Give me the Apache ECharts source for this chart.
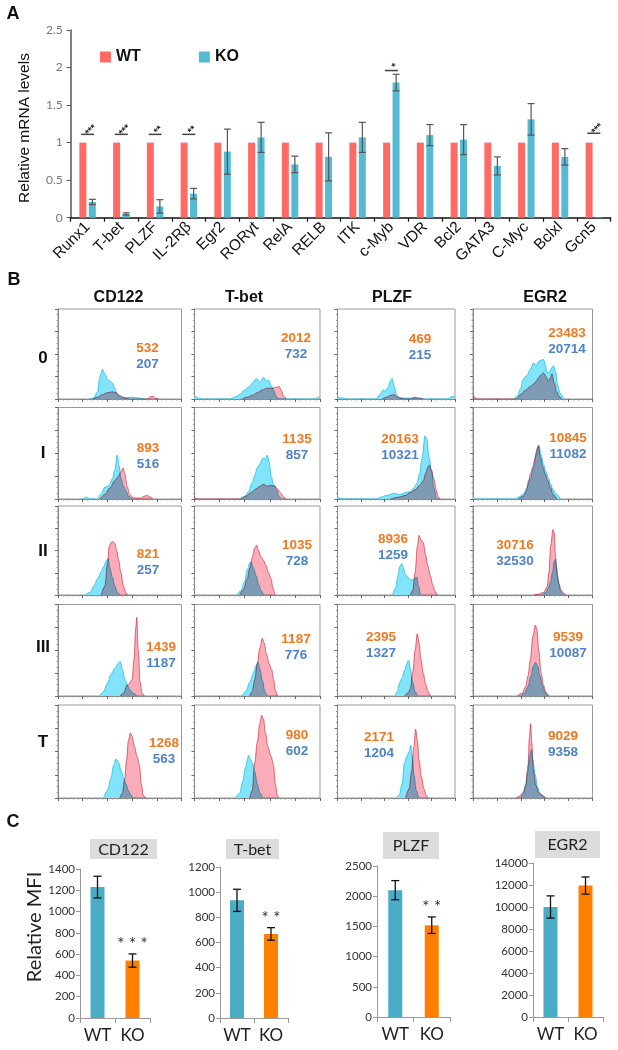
<!DOCTYPE html>
<html><head><meta charset="utf-8">
<script src="https://cdn.jsdelivr.net/npm/echarts@6/dist/echarts.min.js"></script>
<style>html,body{margin:0;padding:0;background:#fff}#c{width:618px;height:1050px}</style>
</head><body><div id="c"></div>
<script>
// ---------- Panel A data ----------
const genes = ['Runx1','T-bet','PLZF','IL-2R\u03b2','Egr2','ROR\u03b3t','RelA','RELB','ITK','c-Myb','VDR','Bcl2','GATA3','C-Myc','Bclxl','Gcn5'];
const wtLevels = [1,1,1,1,1,1,1,1,1,1,1,1,1,1,1,1];
const koLevels = [0.21,0.05,0.15,0.32,0.88,1.07,0.71,0.81,1.07,1.80,1.10,1.04,0.69,1.31,0.81,0.01];
const koErrors = [0.035,0.015,0.09,0.07,0.30,0.20,0.11,0.32,0.20,0.11,0.14,0.20,0.12,0.21,0.11,0];
const sigMarks = [[0,1.11,'***'],[1,1.11,'***'],[2,1.11,'**'],[3,1.11,'**'],[9,1.96,'*'],[15,1.125,'***']];

// ---------- Panel B data ----------
const markers = ['CD122','T-bet','PLZF','EGR2'];
const stages = ['0','I','II','III','T'];
const mfiWT = [[532,893,821,1439,1268],[2012,1135,1035,1187,980],[469,20163,8936,2395,2171],[23483,10845,30716,9539,9029]];
const mfiKO = [[207,516,257,1187,563],[732,857,728,776,602],[215,10321,1259,1327,1204],[20714,11082,32530,10087,9358]];

const cd122KO = [
 [[25,0],[29,1],[32,8],[34,25],[36,33],[38,28],[40,22],[42,20],[44,18],[46,12],[48,5],[51,2],[55,1.5],[60,2],[65,1],[70,0]],
 [[20,0],[23,2],[26,0],[32,0],[35,6],[38,13],[41,14],[44,22],[46,32],[48,48],[49.5,36],[51,22],[53,14],[55,9],[57,3],[60,0]],
 [[22,0],[26,3],[29,10],[32,18],[35,26],[37,32],[39,38],[40.5,41],[42,30],[44,20],[46,10],[48,3],[50,0]],
 [[34,0],[37,5],[40,14],[43,24],[46,30],[49,36],[50.5,38],[52,30],[54,19],[56,12],[58,7],[61,3],[64,0]],
 [[37,0],[40,8],[43,22],[45,35],[47,42],[49,38],[51,30],[53,22],[55,15],[57,8],[59,3],[61,0]]
];
const cd122WT = [
 [[28,0],[32,2],[36,5],[40,7],[44,8],[47,7],[50,4],[54,1],[58,0],[72,0],[75,2.5],[77,3],[79,1],[81,0]],
 [[34,0],[38,5],[42,12],[46,20],[49,25],[51,30],[52.7,34],[54,28],[56,14],[58,5],[61,1.5],[64,1],[67,1],[70,3],[72,4],[74,2.5],[77,0]],
 [[35,0],[38,10],[40,35],[41.5,55],[43,59],[44.5,60],[46,58],[47.5,50],[49,40],[51,25],[53,10],[55,2],[57,0]],
 [[50,0],[53,3],[56,12],[58,14],[60,18],[61.5,40],[63,75],[63.8,86],[65,50],[66.5,15],[68,3],[70,0]],
 [[50,0],[52,5],[54,20],[55.5,41],[57,62],[58.6,70],[60,66],[62,55],[64,45],[66,35],[67.5,15],[69,3],[71,0]]
];
const tbetKO = [
 [[0,4],[3,1],[6,0],[28,0],[32,2],[36,5],[40,10],[44,14],[47,19],[49.5,23],[52,18],[55,24],[57,20],[59,21],[61,15],[63,10],[65,3],[67,0],[96,0],[99,2],[100,2]],
 [[36,0],[40,3],[43,8],[46,18],[48,26],[50,34],[52,38],[54,44],[55.5,45],[57,43],[58,48],[59.5,40],[61,25],[63,16],[65.5,10],[67,3],[69,0]],
 [[34,0],[37,5],[40,15],[42,28],[44,36],[45,37],[47,30],[49,22],[51,12],[53,5],[55,0]],
 [[38,0],[41,5],[44,15],[47,25],[49,33],[50.5,37],[52,30],[54,17],[56,5],[57.5,0]],
 [[33,0],[36,5],[38.5,18],[40.5,32],[42,40],[43,46],[44.5,42],[46,38],[48,28],[50,15],[52,6],[54,0]]
];
const tbetWT = [
 [[38,0],[42,2],[46,4],[50,7],[54,10],[58,12],[62,12],[65,13],[67.5,14],[69,10],[71,3],[73,0]],
 [[0,2],[2,0],[37,0],[41,3],[45,7],[49,11],[52,14],[55,16],[58,14],[61,15],[64,14],[66,11],[69,6],[71,2],[73,0]],
 [[36,0],[39,6],[42,18],[44,30],[46,42],[48,53],[49.5,56],[51,50],[53,43],[55,39],[57,33],[59,25],[61,18],[62.5,8],[64,0]],
 [[44,0],[46,5],[48,18],[50,35],[52,52],[54,63],[55.5,58],[57.5,45],[59.5,35],[61.5,29],[63,18],[64.5,6],[66,0]],
 [[44,0],[46,8],[48,38],[50,60],[52,80],[53.5,89],[55,85],[56.5,70],[58.5,55],[61,45],[63,35],[64.5,15],[66,3],[67,0]]
];
const plzfKO = [
 [[0,2],[4,1],[8,0],[33,0],[36,5],[39,10],[41,9],[43,13],[45,20],[46.5,23],[48,15],[50,5],[52,2],[55,1],[60,1],[66,1],[70,0],[94,0],[97,3],[100,2]],
 [[0,3],[2,1],[5,0],[33,0],[37,2],[42,4],[48,6],[53,5],[58,7],[62,8],[65,12],[67.5,17],[70,28],[72,45],[74.5,69],[76,65],[78,45],[80,30],[82,12],[84,0]],
 [[47,0],[49.5,8],[51.5,22],[53,32],[54.7,35],[56.5,28],[58,23],[60,20],[62,17],[64,17],[66,19],[67.5,20],[69,10],[70.5,0]],
 [[49,0],[51,5],[53,15],[55,20],[57,28],[59,35],[60.4,39],[62,30],[64,15],[66,5],[68,0]],
 [[50,0],[52.5,3],[55,15],[57,38],[59,45],[61,50],[62.4,57],[63.5,45],[65,25],[67,8],[69,0]]
];
const plzfWT = [
 [[38,0],[42,2],[45,4],[48,5],[50,3],[53,1],[57,0],[62,0],[66,2],[70,1],[73,0]],
 [[45,0],[52,2],[58,4],[62,7],[66,10],[70,15],[73,20],[75,28],[77,35],[78,37],[80,32],[82,22],[84,10],[85.5,3],[87,0]],
 [[62,0],[64,5],[66,25],[68,55],[69.4,67],[71,62],[73,59],[75,45],[77,32],[79,22],[81,12],[83,4],[85,0]],
 [[57,0],[60,3],[62,8],[64,25],[66,50],[67.9,68],[69.5,58],[71,40],[73,25],[75,13],[77,5],[79,0]],
 [[58,0],[61,10],[63,28],[65,55],[66.5,74],[68,62],[69.5,40],[71.5,22],[73.5,10],[75.5,3],[77,0]]
];
const egr2KO = [
 [[34,0],[37,3],[40,12],[42,22],[45,26],[48,33],[50.7,40],[53,37],[55,42],[57,43],[59,44],[60.5,38],[62,29],[64,30],[66,35],[67.4,37],[69,30],[71,15],[73,6],[75.8,0]],
 [[0,3],[3,0],[35,0],[38,2],[42,5],[45,12],[48,22],[51,35],[53,50],[55,59],[57,48],[59,38],[61,30],[63,23],[65,16],[67,10],[70,5],[73,0]],
 [[58,0],[61,3],[63,8],[65,15],[66.5,25],[68,38],[68.8,40],[70,30],[71.5,15],[73,5],[75,0]],
 [[40,0],[43,3],[46,10],[48.5,22],[50.5,33],[52.3,36.6],[54,33],[56,22],[58,12],[60,5],[62,1],[64,0]],
 [[40,0],[42,4],[44,12],[46,28],[47.5,45],[48.8,52],[50,42],[52,25],[54,12],[56,5],[58,2],[60,0]]
];
const egr2WT = [
 [[0,3],[1.5,2],[3,0],[36,0],[40,5],[44,10],[48,14],[51,17],[53,20],[55,24],[57,27],[59,29],[61,25],[63,20],[65,24],[66,28],[68,18],[70,8],[72,3],[74,0]],
 [[38,0],[42,3],[44.5,8],[46.5,20],[48,27.5],[50,35],[52,45],[53.5,55],[54.7,58],[56.5,45],[58.5,35],[60.5,27],[62.5,20],[65,12],[67,5],[70,0]],
 [[51,0],[55,1],[59,3],[62,9],[63.5,25],[65,55],[66.9,73.5],[68,70],[69,45],[70.5,22],[72,12],[74,5],[76,2],[78,0]],
 [[37,0],[41,3],[44,10],[46,22],[48,40],[50,65],[52.3,77.6],[53.5,72],[55,50],[57,25],[59,12],[61,4],[63,0]],
 [[36,0],[39,2],[42,6],[44,14],[46,35],[47.2,65],[48.2,80],[49.2,60],[50.5,30],[52.5,14],[55,6],[58,3],[61,0]]
];

// ---------- Panel C data ----------
const groups = ['WT','KO'];
const relMFI = [[1230,540],[935,668],[2100,1520],[10000,11950]];
const relMFIErr = [[102,62],[88,50],[158,137],[1010,780]];
const relMFISig = [['','***'],['','**'],['','**'],['','']];
const relMFIMax = [1400,1200,2500,14000];
const relMFIStep = [200,200,500,2000];

// ---------- layout / styles ----------
const FONT = '"Liberation Sans", Arial, sans-serif';
const CAL = 'Lato, "Liberation Sans", sans-serif';
const RED_A = '#FF6B64', BLUE_A = '#57BAD3';
const ORANGE_T = '#F07820', BLUE_T = '#4F83C8';

const colLeft = [58,194.5,337.5,473], colW = [123.5,125.5,117.5,119.5];
const rowTop = [309,407.5,506,604.5,705], rowH = [90,91.5,89,91.5,93];
const numPos = [
 [[147.5,348],[148,448],[148,554],[161,647],[164,743]],
 [[296,338],[297,439],[297,545],[296,639],[297,735]],
 [[420,339],[400,439],[393,539],[381,637],[379,737]],
 [[567,333],[568,438],[515,545],[568,637],[563,736]]
];
const headerX = [118.5,244,392,545];
const rowLabelY = [358,453,551,647,742];

const cLeft = [80,220,377,533], cW = [70,68,73,70], cTop = [869,867,866,863], cBot = [1018,1018,1017,1017];
const cTitleBox = [[90,839,67,20],[226,839,53,20],[383,832,56,27],[535,831,65,27]];

const grids = [], xAxes = [], yAxes = [], series = [], graphics = [];

function txt(t, x, y, font, fill, align, extra) {
  return Object.assign({type:'text', x:x, y:y, silent:true, style:{text:t, font:font, fill:fill,
    align:align||'center', verticalAlign:'middle', textAlign:align||'center', textVerticalAlign:'middle'}}, extra||{});
}

// ---------- Panel A ----------
grids.push({left:70.7, top:30, width:540, height:187.7});
xAxes.push({gridIndex:0, type:'category', data:genes,
  axisLine:{lineStyle:{color:'#111', width:1.5}},
  axisTick:{show:true, length:4, lineStyle:{color:'#111', width:1.2}},
  axisLabel:{rotate:45, interval:0, fontSize:15.5, color:'#111', fontFamily:FONT, margin:7}});
yAxes.push({gridIndex:0, type:'value', min:0, max:2.5, interval:0.5,
  axisLine:{show:true, lineStyle:{color:'#555', width:1.5}},
  axisTick:{show:true, length:4, lineStyle:{color:'#555'}},
  axisLabel:{fontSize:12, color:'#777', fontFamily:CAL, margin:8, formatter:v=>String(v)},
  splitLine:{show:false}});
series.push({name:'WT', type:'bar', xAxisIndex:0, yAxisIndex:0, data:wtLevels, barWidth:7, barGap:'35%', itemStyle:{color:RED_A}});
series.push({name:'KO', type:'bar', xAxisIndex:0, yAxisIndex:0, data:koLevels, barWidth:7, barGap:'35%', itemStyle:{color:BLUE_A}});
series.push({type:'custom', xAxisIndex:0, yAxisIndex:0, z:5, silent:true,
  data: koLevels.map((v,i)=>[i, v, koErrors[i]]),
  renderItem:(p, api)=>{
    const i = api.value(0), v = api.value(1), e = api.value(2);
    if (!e) return null;
    const hi = api.coord([i, v+e]), lo = api.coord([i, v-e]);
    const x = hi[0] + 4.8;
    const st = {stroke:'#555', lineWidth:1.2};
    return {type:'group', children:[
      {type:'line', shape:{x1:x, y1:hi[1], x2:x, y2:lo[1]}, style:st},
      {type:'line', shape:{x1:x-3.5, y1:hi[1], x2:x+3.5, y2:hi[1]}, style:st},
      {type:'line', shape:{x1:x-3.5, y1:lo[1], x2:x+3.5, y2:lo[1]}, style:st}
    ]};
  }});
series.push({type:'custom', xAxisIndex:0, yAxisIndex:0, z:6, silent:true,
  data: sigMarks,
  renderItem:(p, api)=>{
    const c = api.coord([api.value(0), api.value(1)]);
    const s = sigMarks[p.dataIndex][2];
    return {type:'group', children:[
      {type:'line', shape:{x1:c[0]-6.5, y1:c[1], x2:c[0]+6.5, y2:c[1]}, style:{stroke:'#444', lineWidth:1.5}},
      {type:'text', x:c[0]+3.5, y:c[1]-4, rotation:Math.PI/4,
        style:{text:s, font:'bold 10px '+FONT, fill:'#222', align:'center', verticalAlign:'middle'}}
    ]};
  }});
graphics.push(txt('A', 13, 14, 'bold 18px '+FONT, '#111'));
graphics.push(txt('Relative mRNA levels', 25, 128, '15.5px '+FONT, '#111', 'center', {rotation:Math.PI/2}));

// ---------- Panel B ----------
const histKO = [cd122KO, tbetKO, plzfKO, egr2KO];
const histWT = [cd122WT, tbetWT, plzfWT, egr2WT];
graphics.push(txt('B', 14, 280, 'bold 18px '+FONT, '#111'));
markers.forEach((m, c) => {
  graphics.push(txt(m, headerX[c], 298, 'bold 16px '+FONT, '#111'));
  stages.forEach((s, r) => {
    const gi = grids.length;
    grids.push({left:colLeft[c], top:rowTop[r], width:colW[c], height:rowH[r], show:true,
      borderColor:'#9a9a9a', borderWidth:1, backgroundColor:'rgba(0,0,0,0)'});
    xAxes.push({gridIndex:gi, type:'value', min:0, max:100, interval:20,
      axisLine:{show:true, onZero:false, lineStyle:{color:'#888'}},
      axisTick:{show:true, length:3, lineStyle:{color:'#666'}},
      minorTick:{show:true, splitNumber:5, length:1.5, lineStyle:{color:'#999'}},
      axisLabel:{show:false}, splitLine:{show:false}});
    yAxes.push({gridIndex:gi, type:'value', min:0, max:100, interval:25,
      axisLine:{show:true, onZero:false, lineStyle:{color:'#888'}},
      axisTick:{show:true, length:3, lineStyle:{color:'#666'}},
      minorTick:{show:true, splitNumber:4, length:1.5, lineStyle:{color:'#999'}},
      axisLabel:{show:false}, splitLine:{show:false}});
    series.push({type:'line', xAxisIndex:gi, yAxisIndex:gi, data:histKO[c][r], smooth:0.35, smoothMonotone:'x',
      symbol:'none', silent:true, z:2, lineStyle:{color:'#3CC8E8', width:1},
      areaStyle:{color:'#82E4FA', opacity:1}});
    series.push({type:'line', xAxisIndex:gi, yAxisIndex:gi, data:histWT[c][r], smooth:0.35, smoothMonotone:'x',
      symbol:'none', silent:true, z:3, blendMode:'multiply', lineStyle:{color:'#E57783', width:1},
      areaStyle:{color:'#FAACB8', opacity:1}});
    const p = numPos[c][r];
    graphics.push(txt(String(mfiWT[c][r]), p[0], p[1], 'bold 13.5px '+FONT, ORANGE_T));
    graphics.push(txt(String(mfiKO[c][r]), p[0], p[1]+16, 'bold 13.5px '+FONT, BLUE_T));
  });
});
stages.forEach((s, r) => graphics.push(txt(s, 43, rowLabelY[r], 'bold 17px '+FONT, '#111')));

// ---------- Panel C ----------
graphics.push(txt('C', 13, 822, 'bold 18px '+FONT, '#111'));
graphics.push(txt('Relative MFI', 35, 927, '20px '+CAL, '#222', 'center', {rotation:Math.PI/2}));
markers.forEach((m, k) => {
  const gi = grids.length;
  grids.push({left:cLeft[k], top:cTop[k], width:cW[k], height:cBot[k]-cTop[k]});
  xAxes.push({gridIndex:gi, type:'category', data:groups,
    axisLine:{lineStyle:{color:'#999'}},
    axisTick:{show:true, length:5, lineStyle:{color:'#999'}},
    axisLabel:{interval:0, hideOverlap:false, fontSize:17, color:'#222', fontFamily:CAL, margin:9}});
  yAxes.push({gridIndex:gi, type:'value', min:0, max:relMFIMax[k], interval:relMFIStep[k],
    axisLine:{show:true, lineStyle:{color:'#999'}},
    axisTick:{show:true, length:4, lineStyle:{color:'#999'}},
    axisLabel:{fontSize:11.5, color:'#333', fontFamily:CAL, margin:5, formatter:v=>String(v)},
    splitLine:{show:false}});
  series.push({type:'bar', xAxisIndex:gi, yAxisIndex:gi, barWidth:14, silent:true,
    data: relMFI[k].map((v,i)=>({value:v, itemStyle:{color: i ? '#FF8000' : '#4BACC6'}}))});
  series.push({type:'custom', xAxisIndex:gi, yAxisIndex:gi, z:5, silent:true,
    data: relMFI[k].map((v,i)=>[i, v, relMFIErr[k][i]]),
    renderItem:(p, api)=>{
      const i = api.value(0), v = api.value(1), e = api.value(2);
      const hi = api.coord([i, v+e]), lo = api.coord([i, v-e]);
      const x = hi[0];
      const st = {stroke:'#111', lineWidth:1.3};
      const ch = [
        {type:'line', shape:{x1:x, y1:hi[1], x2:x, y2:lo[1]}, style:st},
        {type:'line', shape:{x1:x-4, y1:hi[1], x2:x+4, y2:hi[1]}, style:st},
        {type:'line', shape:{x1:x-4, y1:lo[1], x2:x+4, y2:lo[1]}, style:st}
      ];
      const sg = relMFISig[k][i];
      if (sg) ch.push({type:'text', x:x, y:hi[1]-1,
        style:{text:sg.split('').join(' '), font:'17px '+CAL, fill:'#333', align:'center', verticalAlign:'bottom'}});
      return {type:'group', children:ch};
    }});
  const b = cTitleBox[k];
  graphics.push({type:'rect', shape:{x:b[0], y:b[1], width:b[2], height:b[3]}, style:{fill:'#DCDCDC'}, silent:true});
  graphics.push(txt(m, b[0]+b[2]/2, b[1]+b[3]/2+0.5, '16px '+CAL, '#222'));
});

const chart = echarts.init(document.getElementById('c'), null, {renderer:'canvas'});
chart.setOption({
  animation:false,
  backgroundColor:'#fff',
  legend:{data:['WT','KO'], left:100, top:49, itemWidth:11, itemHeight:11, itemGap:58, icon:'rect', padding:0,
    selectedMode:false, textStyle:{fontSize:16, fontWeight:'bold', color:'#111', fontFamily:FONT}},
  grid:grids, xAxis:xAxes, yAxis:yAxes, series:series,
  graphic:{elements:graphics}
});
</script></body></html>
